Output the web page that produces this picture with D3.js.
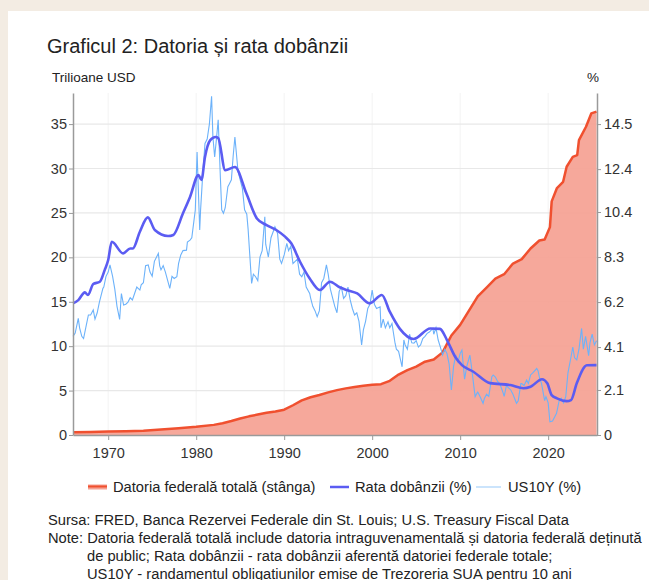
<!DOCTYPE html>
<html>
<head>
<meta charset="utf-8">
<script src="https://cdn.jsdelivr.net/npm/d3@7"></script>
<style>
  html, body { margin: 0; padding: 0; background: #f3ece3; }
  svg { display: block; font-family: "Liberation Sans", Arial, sans-serif; }
</style>
</head>
<body>
<div id="chart"></div>
<script>
// Total federal debt, trillion USD (left axis)
const debtYears = [1966, 1968, 1970, 1972, 1974, 1976, 1978, 1980, 1982, 1983, 1984, 1985, 1986, 1987, 1988, 1989,
  1990, 1991, 1992, 1993, 1994, 1995, 1996, 1997, 1998, 1999, 2000, 2001, 2002, 2003, 2004, 2005, 2006, 2007,
  2008, 2009, 2010, 2011, 2012, 2013, 2014, 2015, 2016, 2017, 2018, 2019, 2019.6, 2020.2, 2020.4, 2021.0,
  2021.7, 2022.1, 2022.8, 2023.3, 2023.5, 2024.3, 2024.9, 2025.5]
const debtValues = [0.32, 0.35, 0.38, 0.43, 0.48, 0.62, 0.77, 0.93, 1.14, 1.33, 1.57, 1.85, 2.1, 2.3, 2.5, 2.65,
  2.85, 3.35, 3.9, 4.25, 4.5, 4.8, 5.05, 5.25, 5.4, 5.55, 5.65, 5.72, 6.1, 6.8, 7.3, 7.7, 8.25, 8.5,
  9.3, 11.2, 12.4, 14.0, 15.6, 16.6, 17.6, 18.1, 19.3, 19.8, 21.0, 21.9, 22.0, 23.4, 26.3, 27.8,
  28.5, 30.2, 31.3, 31.5, 33.2, 34.7, 36.2, 36.4]

// Average interest rate on total debt, % (right axis)
const rateYears = [1966.0, 1966.6, 1967.35, 1967.7, 1968.3, 1969.05, 1969.6, 1970.0, 1970.4, 1971.7, 1972.5, 1972.8,
  1973.6, 1974.5, 1975.3, 1976.8, 1977.4, 1978.5, 1979.3, 1980.25, 1980.6, 1981.0, 1981.6, 1982.2, 1982.5,
  1983.3, 1984.4, 1985.7, 1986.9, 1988.0, 1989.1, 1990.1, 1990.8, 1991.8, 1992.9, 1994.05, 1995.2, 1996.3,
  1997.1, 1998.3, 1999.7, 2001.1, 2002.0, 2003.15, 2004.7, 2006.6, 2007.7, 2008.5, 2009.5, 2010.2,
  2011.5, 2013.4, 2015.7, 2017.2, 2018.0, 2019.3, 2019.9, 2020.4, 2021.0, 2022.1, 2022.6, 2023.25,
  2024.4, 2025.5]
const rateValues = [6.14, 6.29, 6.65, 6.53, 7.04, 7.15, 7.69, 8.16, 9.01, 8.47, 8.7, 8.7,
  9.48, 10.15, 9.56, 9.28, 9.33, 10.34, 11.1, 12.12, 11.9, 12.97, 13.75, 13.9, 13.85,
  12.35, 12.5, 11.27, 10.1, 9.79, 9.56, 9.25, 8.94, 8.08, 7.3, 6.76, 7.15, 6.89,
  6.76, 6.6, 6.14, 6.53, 5.75, 4.95, 4.48, 4.97, 4.95, 4.43, 3.6, 3.26,
  2.95, 2.42, 2.33, 2.18, 2.25, 2.6, 2.41, 1.86, 1.71, 1.58, 1.63, 2.41,
  3.25, 3.26]

// US10Y yield, % (right axis)
const us10yYears = [
  1966.0, 1966.25, 1966.6, 1966.75, 1967.0, 1967.2, 1967.5, 1967.75, 1968.0, 1968.3, 1968.5, 1968.75,
  1969.0, 1969.4, 1969.5, 1969.75, 1970.0, 1970.2, 1970.5, 1970.75, 1971.0, 1971.3, 1971.5, 1971.75,
  1972.0, 1972.25, 1972.5, 1972.75, 1973.0, 1973.25, 1973.6, 1973.75, 1974.0, 1974.25, 1974.55, 1974.75,
  1975.0, 1975.25, 1975.7, 1975.85, 1976.0, 1976.25, 1976.5, 1977.0, 1977.25, 1977.5, 1977.8, 1978.0,
  1978.25, 1978.5, 1978.9, 1979.0, 1979.3, 1979.5, 1979.9, 1980.1, 1980.4, 1980.5, 1980.75, 1981.0,
  1981.25, 1981.5, 1981.75, 1981.9, 1982.1, 1982.3, 1982.5, 1982.75, 1982.9, 1983.1, 1983.3, 1983.6,
  1983.75, 1984.0, 1984.2, 1984.4, 1984.75, 1985.0, 1985.25, 1985.5, 1985.75, 1985.9, 1986.3, 1986.5,
  1986.75, 1987.0, 1987.25, 1987.5, 1987.8, 1987.9, 1988.2, 1988.5, 1988.95, 1989.25, 1989.5, 1989.7,
  1990.0, 1990.3, 1990.5, 1990.75, 1991.0, 1991.25, 1991.5, 1991.75, 1992.0, 1992.25, 1992.5, 1992.9,
  1993.0, 1993.25, 1993.5, 1993.75, 1994.0, 1994.25, 1994.5, 1994.8, 1995.0, 1995.25, 1995.5, 1995.75,
  1996.0, 1996.25, 1996.5, 1996.75, 1997.0, 1997.25, 1997.5, 1997.75, 1998.0, 1998.25, 1998.5, 1998.8,
  1999.0, 1999.25, 1999.5, 1999.75, 2000.0, 2000.25, 2000.5, 2000.9, 2001.0, 2001.25, 2001.5, 2001.8,
  2002.0, 2002.25, 2002.6, 2002.75, 2003.0, 2003.4, 2003.6, 2003.75, 2004.0, 2004.25, 2004.5, 2004.75,
  2005.0, 2005.25, 2005.5, 2005.75, 2006.0, 2006.25, 2006.5, 2006.9, 2007.0, 2007.25, 2007.5, 2007.75,
  2008.0, 2008.25, 2008.5, 2008.75, 2009.0, 2009.25, 2009.5, 2009.75, 2010.0, 2010.2, 2010.5, 2010.75,
  2011.1, 2011.25, 2011.7, 2011.9, 2012.0, 2012.25, 2012.6, 2012.75, 2013.0, 2013.25, 2013.6, 2013.75,
  2014.0, 2014.25, 2014.5, 2014.9, 2015.0, 2015.25, 2015.5, 2015.75, 2016.0, 2016.4, 2016.6, 2016.9,
  2017.0, 2017.25, 2017.55, 2017.75, 2018.0, 2018.25, 2018.7, 2018.85, 2019.0, 2019.25, 2019.6, 2019.75,
  2020.0, 2020.2, 2020.5, 2020.75, 2020.95, 2021.25, 2021.5, 2021.75, 2022.0, 2022.25, 2022.6, 2022.8,
  2023.0, 2023.25, 2023.5, 2023.8, 2024.0, 2024.25, 2024.6, 2024.75, 2025.0, 2025.25, 2025.5]
const us10yValues = [
  4.6, 4.75, 5.44, 5.0, 4.6, 4.5, 5.1, 5.6, 5.6, 5.83, 5.4, 5.7,
  6.2, 6.84, 6.9, 7.4, 7.6, 7.93, 7.4, 6.8, 6.0, 5.39, 6.6, 6.06,
  6.1, 6.2, 6.4, 6.3, 6.6, 6.9, 6.76, 7.0, 7.1, 7.9, 7.93, 7.6,
  7.4, 8.1, 8.47, 7.9, 7.7, 7.9, 7.6, 6.84, 7.4, 7.3, 7.38, 8.0,
  8.4, 8.6, 8.62, 9.0, 9.09, 9.2, 10.5, 13.2, 9.56, 10.5, 12.2, 13.6,
  13.8, 14.5, 15.8, 13.9, 12.97, 13.8, 14.7, 12.0, 10.5, 10.34, 10.6, 11.58,
  11.7, 11.9, 13.0, 13.9, 12.3, 11.9, 11.5, 10.5, 10.3, 9.6, 7.07, 7.5,
  7.38, 7.2, 8.3, 8.6, 10.18, 8.9, 8.3, 9.2, 9.71, 9.4, 8.2, 8.0,
  8.4, 8.94, 8.6, 8.8, 8.0, 8.1, 8.2, 7.5, 7.38, 7.6, 6.9, 6.6,
  6.4, 6.0, 5.8, 5.52, 5.8, 7.1, 7.3, 7.93, 7.5, 6.8, 6.4, 6.0,
  5.7, 6.7, 6.9, 6.37, 6.5, 6.9, 6.3, 5.9, 5.6, 5.7, 5.3, 4.2,
  4.9, 5.3, 5.9, 6.1, 6.76, 6.1, 5.9, 5.98, 5.0, 5.4, 5.0, 5.28,
  5.0, 5.2, 4.28, 4.0, 3.9, 3.18, 4.43, 4.2, 4.0, 4.7, 4.3, 4.28,
  4.4, 4.1, 4.2, 4.5, 4.6, 4.74, 4.8, 4.97, 4.7, 5.0, 4.43, 4.1,
  3.73, 4.0, 3.8, 3.3, 2.1, 3.2, 3.73, 3.4, 3.8, 3.96, 2.6, 3.2,
  3.73, 3.3, 1.79, 1.94, 2.0, 1.8, 1.48, 1.7, 1.9, 1.8, 2.72, 2.8,
  2.7, 2.5, 2.4, 1.94, 1.8, 2.3, 2.2, 2.1, 1.9, 1.48, 1.6, 2.4,
  2.4, 2.3, 2.56, 2.4, 2.8, 2.9, 3.1, 3.0, 2.7, 2.4, 1.6, 1.79,
  1.5, 0.62, 0.65, 0.85, 1.01, 1.6, 1.71, 1.5, 1.79, 2.9, 3.65, 4.1,
  3.6, 3.5, 4.0, 4.97, 4.0, 4.6, 3.7, 4.3, 4.7, 4.2, 4.4]

const yearTicks = [1970, 1980, 1990, 2000, 2010, 2020]
const leftTicks = [0, 5, 10, 15, 20, 25, 30, 35]
const rightTicks = [0, 2.1, 4.1, 6.2, 8.3, 10.4, 12.4, 14.5]

const width = 649
const height = 580
const plot = { left: 73, right: 597, top: 93, bottom: 435 }

const x = d3.scaleLinear().domain([1966, 2025.55]).range([plot.left, plot.right])
const yLeft = d3.scaleLinear().domain([0, 38.5]).range([plot.bottom, plot.top])
const yRight = d3.scaleLinear().domain([0, 38.5 * 14.5 / 35]).range([plot.bottom, plot.top])

const debt = debtYears.map((d, i) => [d, debtValues[i]])
const rate = rateYears.map((d, i) => [d, rateValues[i]])
const us10y = us10yYears.map((d, i) => [d, us10yValues[i]])

const svg = d3.select('#chart').append('svg')
    .attr('width', width)
    .attr('height', height)

// white card
svg.append('rect')
    .attr('x', 8).attr('y', 11)
    .attr('width', width).attr('height', height)
    .attr('fill', '#fff')

svg.append('text')
    .attr('x', 47).attr('y', 53)
    .attr('font-size', 20)
    .attr('fill', '#222')
    .text('Graficul 2: Datoria și rata dobânzii')

svg.append('text')
    .attr('x', 52).attr('y', 82)
    .attr('font-size', 13.5)
    .attr('fill', '#222')
    .text('Trilioane USD')

svg.append('text')
    .attr('x', 587).attr('y', 82)
    .attr('font-size', 13.5)
    .attr('fill', '#222')
    .text('%')

// grid
svg.append('g')
  .selectAll('line')
  .data(yearTicks)
  .join('line')
    .attr('x1', d => x(d)).attr('x2', d => x(d))
    .attr('y1', plot.top).attr('y2', plot.bottom)
    .attr('stroke', '#f3f3f3')

svg.append('g')
  .selectAll('line')
  .data(leftTicks.slice(1))
  .join('line')
    .attr('x1', plot.left).attr('x2', plot.right)
    .attr('y1', d => yLeft(d)).attr('y2', d => yLeft(d))
    .attr('stroke', '#e8e8e8')
    .attr('stroke-width', 1.2)

// debt area + line
svg.append('path')
    .datum(debt)
    .attr('fill', '#f5a193')
    .attr('fill-opacity', 0.92)
    .attr('d', d3.area().x(d => x(d[0])).y0(yLeft(0)).y1(d => yLeft(d[1])))

svg.append('path')
    .datum(debt)
    .attr('fill', 'none')
    .attr('stroke', '#f0502f')
    .attr('stroke-width', 2.5)
    .attr('stroke-linejoin', 'round')
    .attr('d', d3.line().x(d => x(d[0])).y(d => yLeft(d[1])))

svg.append('path')
    .datum(us10y)
    .attr('fill', 'none')
    .attr('stroke', '#6cb2fa')
    .attr('stroke-width', 1.1)
    .attr('d', d3.line().x(d => x(d[0])).y(d => yRight(d[1])))

svg.append('path')
    .datum(rate)
    .attr('fill', 'none')
    .attr('stroke', '#5b5cf2')
    .attr('stroke-width', 2.6)
    .attr('stroke-linejoin', 'round')
    .attr('d', d3.line().curve(d3.curveMonotoneX).x(d => x(d[0])).y(d => yRight(d[1])))

// axes
function styleAxis(g) {
    g.select('.domain').attr('stroke', '#9a9a9a').attr('stroke-width', 1.5)
    g.selectAll('.tick line').attr('stroke', '#9a9a9a')
    g.selectAll('.tick text').attr('fill', '#333').attr('font-size', 14.5)
      .attr('font-family', '"Liberation Sans", Arial, sans-serif')
}

svg.append('g')
    .attr('transform', `translate(${plot.left},0)`)
    .call(d3.axisLeft(yLeft).tickValues(leftTicks).tickSize(4).tickSizeOuter(0).tickPadding(2))
    .call(styleAxis)

svg.append('g')
    .attr('transform', `translate(${plot.right},0)`)
    .call(d3.axisRight(yRight).tickValues(rightTicks).tickFormat(d3.format('')).tickSize(4).tickSizeOuter(0).tickPadding(3))
    .call(styleAxis)

svg.append('g')
    .attr('transform', `translate(0,${plot.bottom})`)
    .call(d3.axisBottom(x).tickValues(yearTicks).tickFormat(d3.format('d')).tickSize(5).tickSizeOuter(0).tickPadding(8))
    .call(styleAxis)

// legend
const legend = svg.append('g').attr('font-size', 14.7).attr('fill', '#222')

legend.append('line')
    .attr('x1', 88).attr('x2', 107).attr('y1', 487).attr('y2', 487)
    .attr('stroke', '#f5a193').attr('stroke-width', 5)
legend.append('line')
    .attr('x1', 88).attr('x2', 107).attr('y1', 486.5).attr('y2', 486.5)
    .attr('stroke', '#f0502f').attr('stroke-width', 2)
legend.append('text').attr('x', 113).attr('y', 492).text('Datoria federală totală (stânga)')

legend.append('line')
    .attr('x1', 330).attr('x2', 349).attr('y1', 487).attr('y2', 487)
    .attr('stroke', '#5b5cf2').attr('stroke-width', 2.5)
legend.append('text').attr('x', 355).attr('y', 492).text('Rata dobânzii (%)')

legend.append('line')
    .attr('x1', 476).attr('x2', 501).attr('y1', 487).attr('y2', 487)
    .attr('stroke', '#a9d2fb').attr('stroke-width', 1.2)
legend.append('text').attr('x', 508).attr('y', 492).text('US10Y (%)')

// notes
const notes = [
    [48, 525, 'Sursa: FRED, Banca Rezervei Federale din St. Louis; U.S. Treasury Fiscal Data'],
    [48, 543, 'Note: Datoria federală totală include datoria intraguvenamentală și datoria federală deținută'],
    [87, 561, 'de public; Rata dobânzii - rata dobânzii aferentă datoriei federale totale;'],
    [87, 579, 'US10Y - randamentul obligațiunilor emise de Trezoreria SUA pentru 10 ani']
]
svg.append('g')
  .selectAll('text')
  .data(notes)
  .join('text')
    .attr('x', d => d[0]).attr('y', d => d[1])
    .attr('font-size', 14.7)
    .attr('fill', '#222')
    .text(d => d[2])
</script>
</body>
</html>
